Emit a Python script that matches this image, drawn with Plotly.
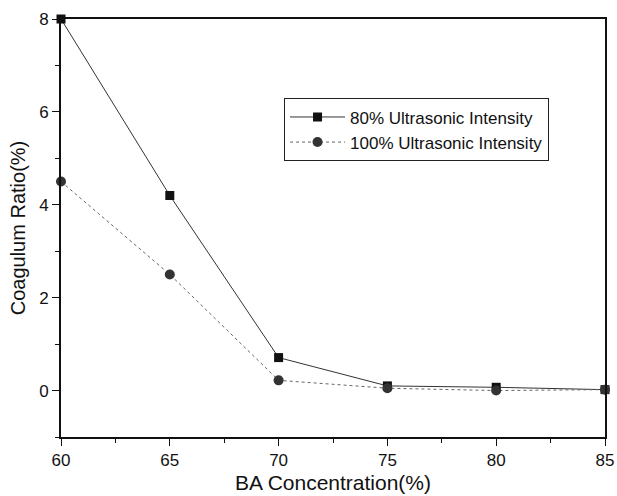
import plotly.graph_objects as go

x_vals = [60, 65, 70, 75, 80, 85]
ratio_80 = [8.0, 4.2, 0.71, 0.1, 0.07, 0.02]
ratio_100 = [4.5, 2.5, 0.22, 0.05, 0.0, 0.02]
series_names = ["80% Ultrasonic Intensity", "100% Ultrasonic Intensity"]

fig = go.Figure()
fig.add_trace(go.Scatter(x=x_vals, y=ratio_80, name=series_names[0], mode="lines+markers",
                         legendgroup="a",
                         line=dict(color="#333333", width=1),
                         marker=dict(symbol="square", size=9, color="#111111"),
                         cliponaxis=False))
fig.add_trace(go.Scatter(x=x_vals, y=ratio_100, name=series_names[1], mode="lines+markers",
                         legendgroup="b",
                         line=dict(color="#666666", width=1, dash="dot"),
                         marker=dict(symbol="circle", size=10, color="#333333"),
                         cliponaxis=False))

font = dict(family="Liberation Sans, Arial, sans-serif", color="#111111")
fig.update_layout(
    width=617, height=496,
    margin=dict(l=61, r=12, t=19, b=59, autoexpand=False),
    paper_bgcolor="white", plot_bgcolor="white",
    font=dict(size=17, **font),
    showlegend=True,
    legend=dict(x=0.41, y=0.81, xanchor="left", yanchor="top",
                bordercolor="#222222", borderwidth=1, bgcolor="white",
                font=dict(size=17, **font), tracegroupgap=12, itemwidth=55,
                traceorder="normal"),
    xaxis=dict(range=[60, 85], tickvals=[60, 65, 70, 75, 80, 85], automargin=False,
               showgrid=False, zeroline=False, showline=True, linecolor="#111111", linewidth=2,
               mirror=True, ticks="outside", ticklen=7, tickwidth=1, tickcolor="#111111",
               minor=dict(tickvals=[62.5, 67.5, 72.5, 77.5, 82.5], ticks="outside", ticklen=4, tickcolor="#111111"),
               title=dict(text="BA Concentration(%)", font=dict(size=21, **font), standoff=6),
               tickfont=dict(size=17, **font)),
    yaxis=dict(range=[-1, 8], tickvals=[0, 2, 4, 6, 8], automargin=False,
               showgrid=False, zeroline=False, showline=True, linecolor="#111111", linewidth=2,
               mirror=True, ticks="outside", ticklen=7, tickwidth=1, tickcolor="#111111",
               minor=dict(tickvals=[-1, 1, 3, 5, 7], ticks="outside", ticklen=4, tickcolor="#111111"),
               title=dict(text="Coagulum Ratio(%)", font=dict(size=20, **font), standoff=8),
               tickfont=dict(size=17, **font)),
)

fig.write_html("out.html")
